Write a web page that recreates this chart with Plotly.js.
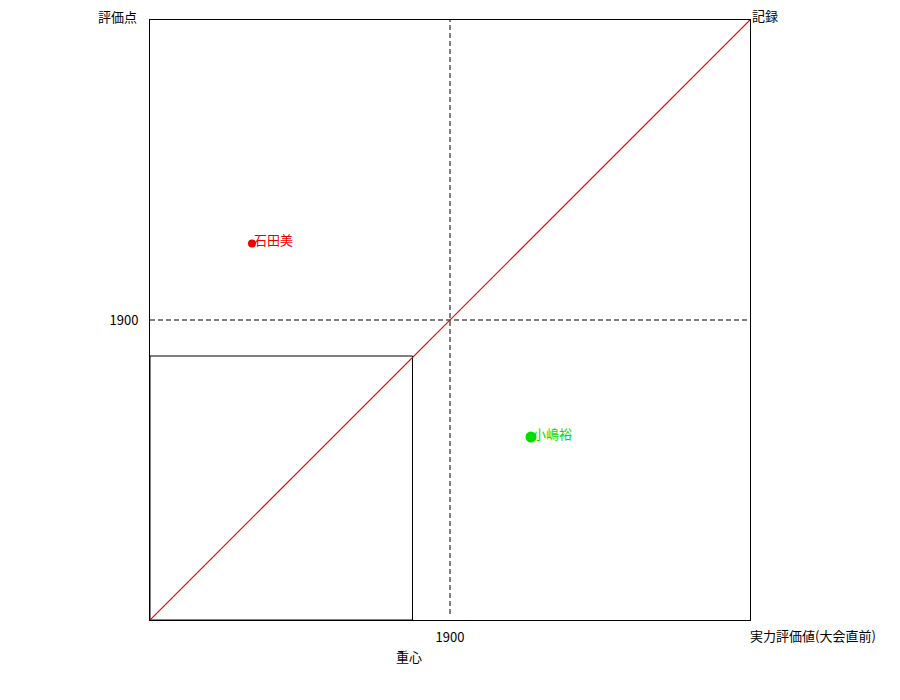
<!DOCTYPE html>
<html>
<head>
<meta charset="utf-8">
<script src="https://cdn.plot.ly/plotly-3.0.1.min.js"></script>
<style>html,body{margin:0;padding:0;background:#fff;}#chart{width:900px;height:700px;}</style>
</head>
<body>
<div id="chart"></div>
<script>
const names = ["石田美", "小嶋裕"];
const rating = [1768, 1954];      // 実力評価値(大会直前)
const score = [1951, 1822];       // 評価点
const colors = ["#ee0000", "#00dd00"];
const markerSizes = [8, 11];
const centroid = [1875, 1876];
const pivot = 1900;
const axisRange = [1700, 2100];

const font = {family: "Noto Sans CJK JP, sans-serif", size: 13, color: "#000"};

const traces = [
  {x: axisRange, y: axisRange, mode: "lines", line: {color: "rgb(230,0,0)", width: 1.2}, hoverinfo: "skip", showlegend: false}
];
names.forEach((n, i) => {
  traces.push({x: [rating[i]], y: [score[i]], mode: "markers", marker: {color: colors[i], size: markerSizes[i], line: {width: 0}}, name: n, showlegend: false});
});

const annotations = names.map((n, i) => ({
  x: rating[i], y: score[i], xref: "x", yref: "y", text: n, showarrow: false,
  xanchor: "left", yanchor: "middle", xshift: 0, yshift: 4,
  font: {family: font.family, size: 13, color: colors[i]}
}));
annotations.push(
  {xref: "paper", yref: "paper", x: 0, y: 1, text: "評価点", showarrow: false, xanchor: "right", yanchor: "middle", xshift: -11, yshift: 4, font: font},
  {xref: "paper", yref: "paper", x: 1, y: 1, text: "記録", showarrow: false, xanchor: "left", yanchor: "middle", xshift: 0, yshift: 5, font: font},
  {xref: "paper", yref: "paper", x: 1, y: 0, text: "実力評価値(大会直前)", showarrow: false, xanchor: "left", yanchor: "middle", xshift: -2, yshift: -15, font: font},
  {xref: "x", yref: "paper", x: centroid[0], y: 0, text: "重心", showarrow: false, xanchor: "center", yanchor: "middle", xshift: -4, yshift: -36, font: font}
);

const shapes = [
  {type: "line", layer: "below", xref: "x", yref: "y", x0: pivot, x1: pivot, y0: axisRange[0] + 4, y1: axisRange[1], line: {color: "#000", width: 1, dash: "5px,3px"}},
  {type: "line", layer: "below", xref: "x", yref: "y", x0: axisRange[0], x1: axisRange[1], y0: pivot, y1: pivot, line: {color: "#000", width: 1, dash: "5px,3px"}},
  {type: "rect", layer: "below", xref: "x", yref: "y", x0: axisRange[0], x1: centroid[0], y0: axisRange[0], y1: centroid[1], line: {color: "#000", width: 1}}
];

const layout = {
  width: 900, height: 700,
  margin: {l: 150, r: 150, t: 20, b: 80},
  paper_bgcolor: "#fff", plot_bgcolor: "#fff",
  font: font,
  showlegend: false,
  xaxis: {range: axisRange, tickvals: [pivot], ticktext: ["1900"], showgrid: false, zeroline: false, showline: true, mirror: true, linecolor: "#000", linewidth: 1, ticks: "", tickfont: font, ticklabelstandoff: 5},
  yaxis: {range: axisRange, tickvals: [pivot], ticktext: ["1900"], showgrid: false, zeroline: false, showline: true, mirror: true, linecolor: "#000", linewidth: 1, ticks: "", tickfont: font, ticklabelstandoff: 8},
  shapes: shapes,
  annotations: annotations
};

Plotly.newPlot("chart", traces, layout, {displayModeBar: false, staticPlot: true});
</script>
</body>
</html>
